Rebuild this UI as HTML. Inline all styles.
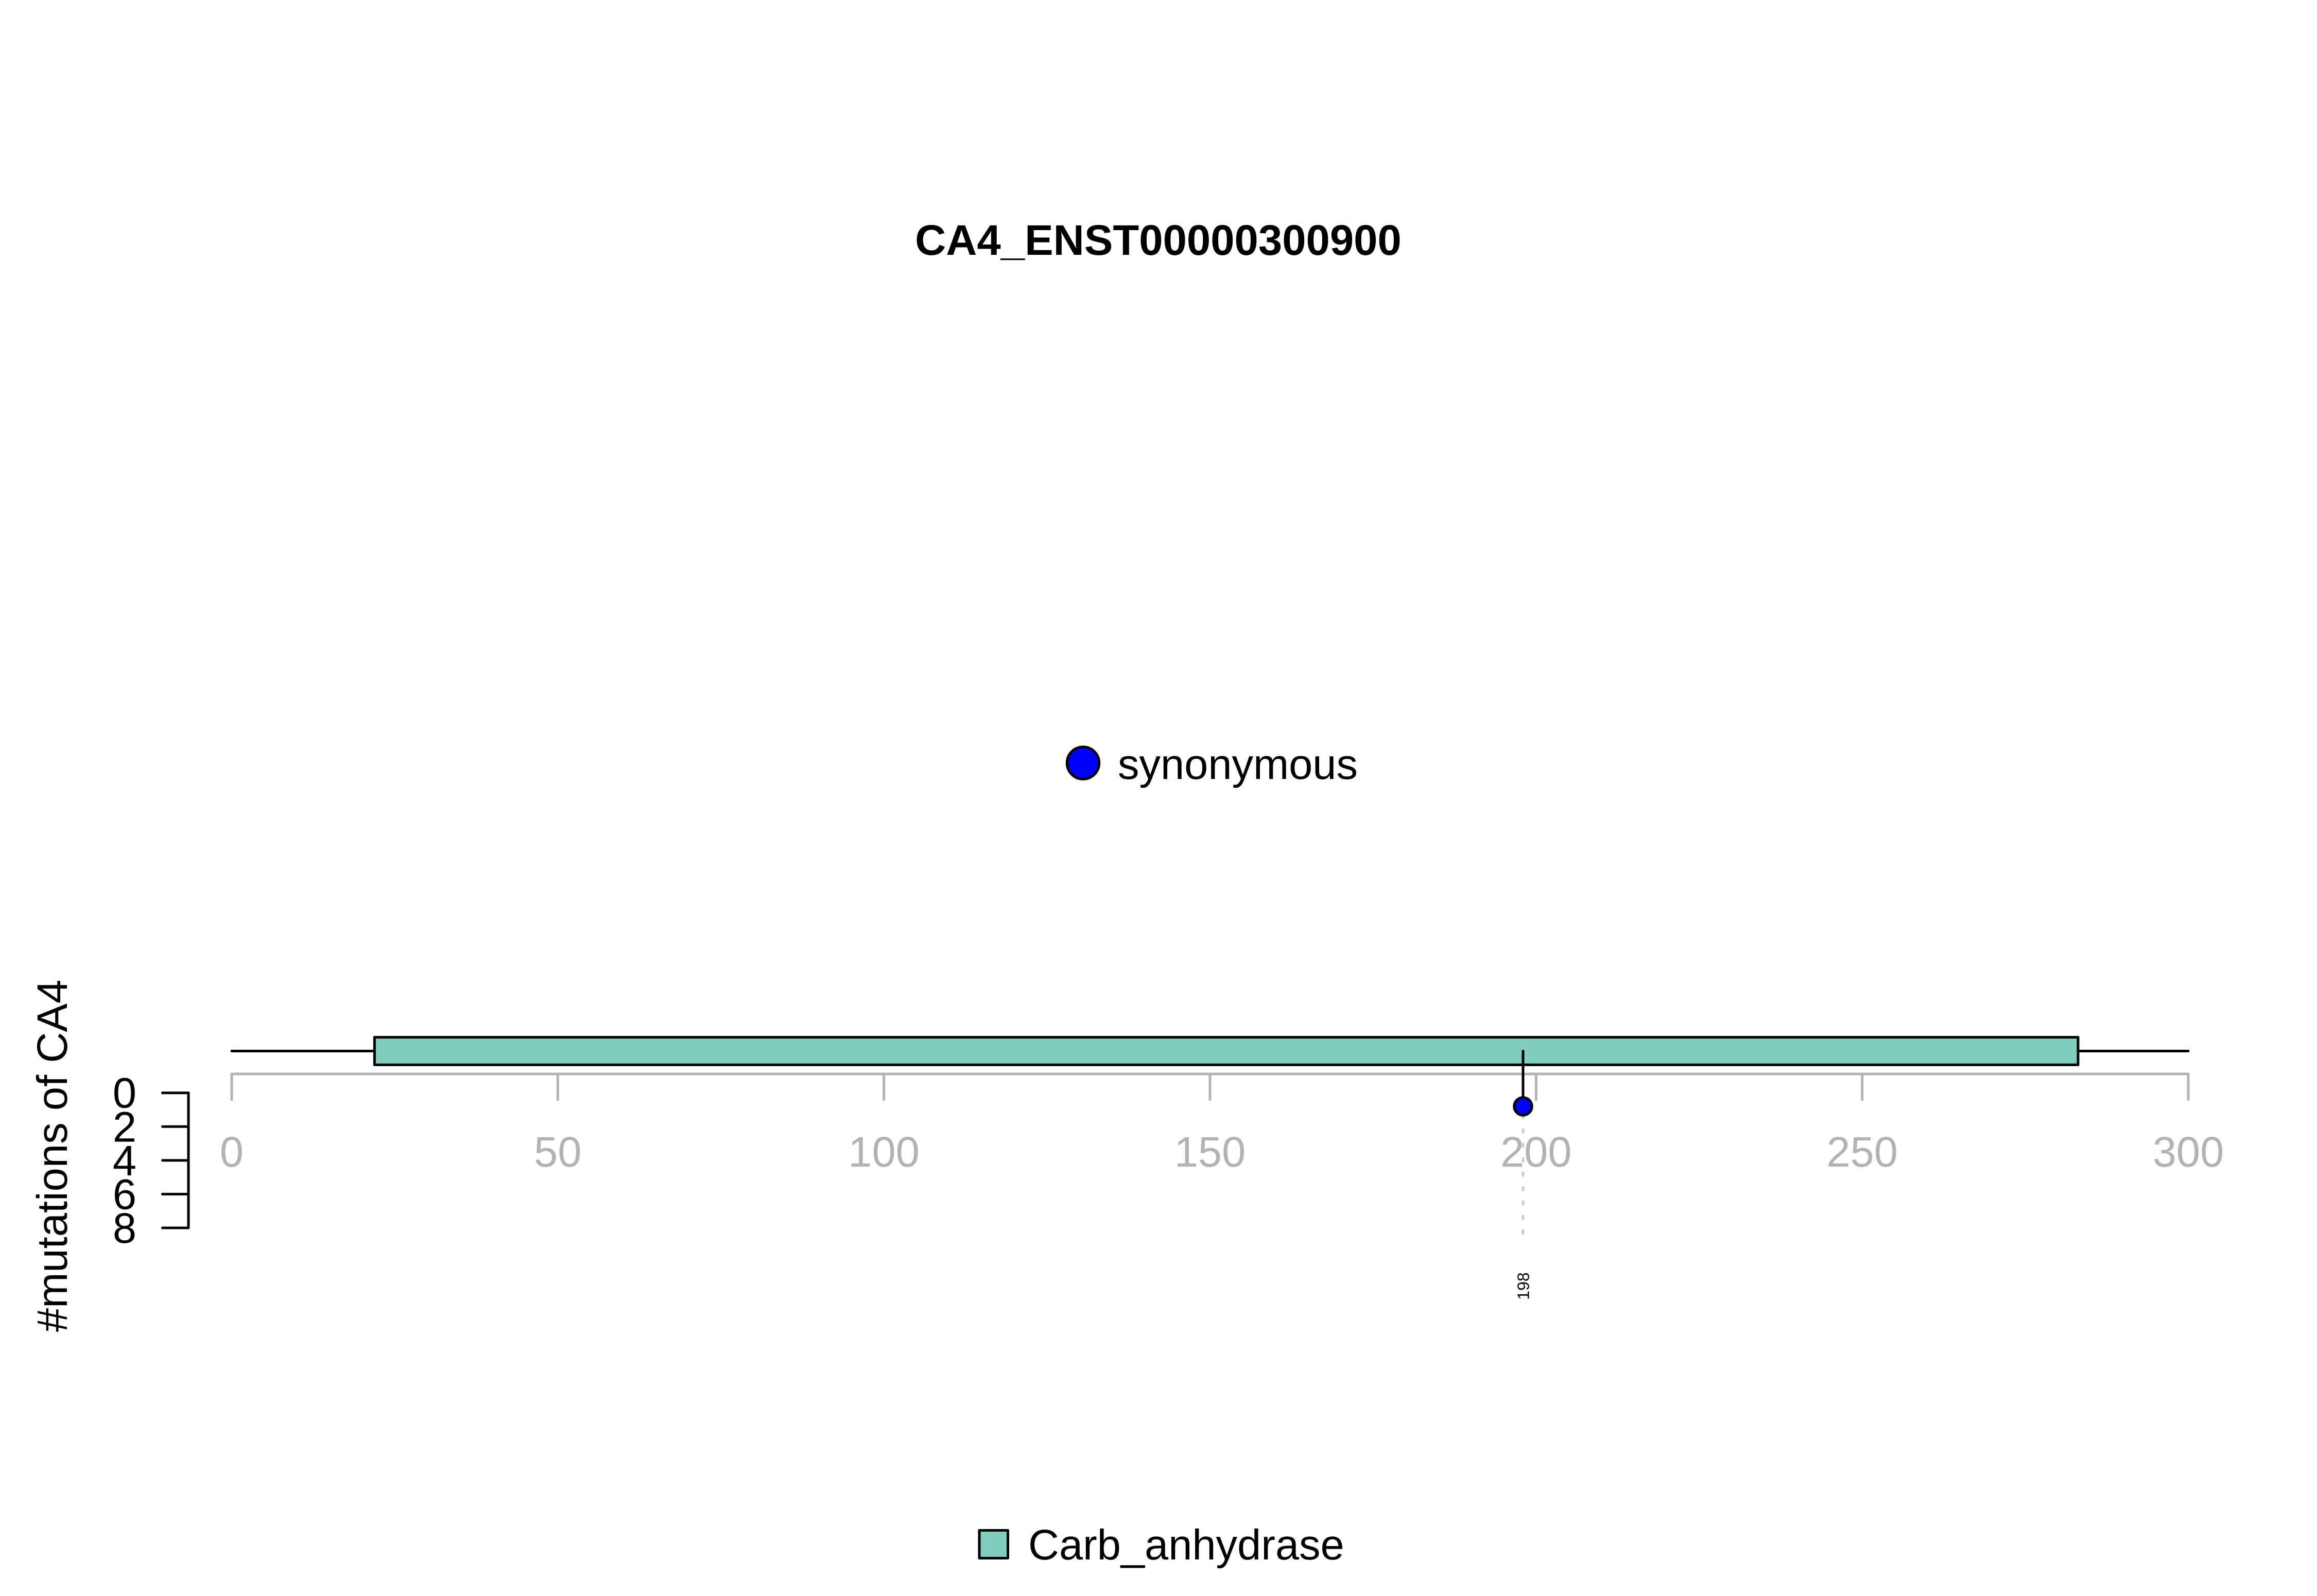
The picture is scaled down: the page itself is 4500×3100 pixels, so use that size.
<!DOCTYPE html>
<html lang="en">
<head>
<meta charset="utf-8">
<title>CA4_ENST00000300900</title>
<style>
html,body{margin:0;padding:0;background:#fff;width:4500px;height:3100px;overflow:hidden}
svg{display:block}
text{font-family:"Liberation Sans",Arial,sans-serif;text-rendering:geometricPrecision}
</style>
</head>
<body>
<svg id="chart" xmlns="http://www.w3.org/2000/svg" width="4500" height="3100" viewBox="0 0 4500 3100">
  <rect x="0" y="0" width="4500" height="3100" fill="#ffffff"/>
  <text x="2249.5" y="495" font-size="83.3" font-weight="700" text-anchor="middle" fill="#000">CA4_ENST00000300900</text>
  <circle cx="2103.5" cy="1482" r="31.2" fill="#0000ff" stroke="#000" stroke-width="5"/>
  <text x="2171" y="1513" font-size="83" fill="#000">synonymous</text>
  <text transform="translate(130,2245) rotate(-90)" x="0" y="0" font-size="83.2" text-anchor="middle" fill="#000">#mutations of CA4</text>
  <rect x="1902" y="2972.5" width="55.5" height="54" fill="#7fcdbb" stroke="#000" stroke-width="5" stroke-linejoin="round"/>
  <text x="1997" y="3029" font-size="83" fill="#000">Carb_anhydrase</text>
</svg>
<script>
const xTicks = [0, 50, 100, 150, 200, 250, 300];
const yTicks = [0, 2, 4, 6, 8];
const proteinLength = [300];
const domainNames = ["Carb_anhydrase"];
const domainStarts = [21.9];
const domainEnds = [283.1];
const mutationPositions = [198];
const mutationCounts = [0.8];
const mutationLabels = ["198"];

const X0 = 450, X_UNIT = 3800 / 300;
const Y0 = 2122.7, Y_UNIT = 262.3 / 8;
const xScale = function (v) { return X0 + v * X_UNIT; };
const yScale = function (v) { return Y0 + v * Y_UNIT; };

const svg = document.getElementById('chart');
const NS = 'http://www.w3.org/2000/svg';
function make(tag, attrs, text) {
  const el = document.createElementNS(NS, tag);
  Object.keys(attrs).forEach(function (k) { el.setAttribute(k, attrs[k]); });
  if (text !== undefined) el.textContent = text;
  svg.appendChild(el);
  return el;
}
const GREY = '#b3b3b3';
const SW = 5;

// backbone
proteinLength.forEach(function (len) {
  const el = make('line', { x1: xScale(0), x2: xScale(len), y1: 2041.5, y2: 2041.5, stroke: '#000', 'stroke-width': SW, 'stroke-linecap': 'round' });
  
  
});

// domains
domainNames.forEach(function (name, i) {
  const el = make('rect', { x: xScale(domainStarts[i]), y: 2014.7, width: xScale(domainEnds[i]) - xScale(domainStarts[i]), height: 53.6, fill: '#7fcdbb', stroke: '#000', 'stroke-width': SW, 'stroke-linejoin': 'round' });
  
  
});

// x axis
const xAxisLine = make('line', { x1: xScale(xTicks[0]), x2: xScale(xTicks[xTicks.length - 1]), y1: 2086, y2: 2086, stroke: GREY, 'stroke-width': SW, 'stroke-linecap': 'round' });


xTicks.forEach(function (t) {
  const tick = make('line', { x1: xScale(t), x2: xScale(t), y1: 2086, y2: 2136, stroke: GREY, 'stroke-width': SW, 'stroke-linecap': 'round' });
  
  
  const label = make('text', { x: xScale(t), y: 2266, 'font-size': 83, 'text-anchor': 'middle', fill: GREY }, String(t));
  
  
});

// y axis
const yAxisLine = make('line', { x1: 366, x2: 366, y1: yScale(yTicks[0]), y2: yScale(yTicks[yTicks.length - 1]), stroke: '#000', 'stroke-width': SW, 'stroke-linecap': 'round' });


yTicks.forEach(function (t) {
  const tick = make('line', { x1: 315.5, x2: 366, y1: yScale(t), y2: yScale(t), stroke: '#000', 'stroke-width': SW, 'stroke-linecap': 'round' });
  
  
  const label = make('text', { x: 242, y: yScale(t) + 29, 'font-size': 83, 'text-anchor': 'middle', fill: '#000' }, String(t));
  
  
});

// mutations
mutationPositions.forEach(function (p, i) {
  const guide = make('line', { x1: xScale(p), x2: xScale(p), y1: 2395.5, y2: yScale(mutationCounts[i]), stroke: '#cccccc', 'stroke-width': SW, 'stroke-linecap': 'round', 'stroke-dasharray': '5.5 22.5' });
  
  
  const stem = make('line', { x1: xScale(p), x2: xScale(p), y1: 2041.5, y2: yScale(mutationCounts[i]), stroke: '#000', 'stroke-width': SW, 'stroke-linecap': 'round' });
  
  
  const dot = make('circle', { cx: xScale(p), cy: yScale(mutationCounts[i]), r: 17.2, fill: '#0000ff', stroke: '#000', 'stroke-width': SW });
  
  
  const label = make('text', { transform: 'translate(' + (xScale(p) + 11.5) + ',2498) rotate(-90)', 'font-size': 32, 'text-anchor': 'middle', fill: '#000' }, mutationLabels[i]);
  
  
});
</script>
</body>
</html>
